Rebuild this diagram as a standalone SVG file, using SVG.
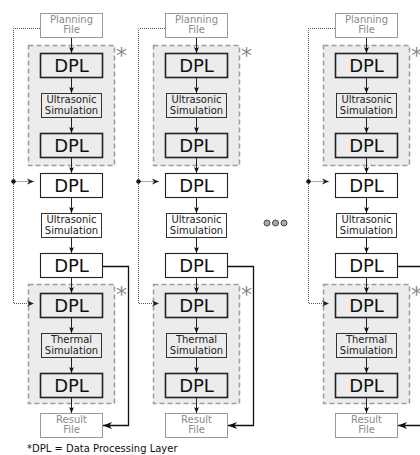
<svg xmlns="http://www.w3.org/2000/svg" width="420" height="455" viewBox="0 0 420 455">
<style>
text{font-family:"DejaVu Sans","Liberation Sans",sans-serif;text-anchor:middle}
.file rect{fill:#fff;stroke:#9a9a9a;stroke-width:1}
.file text{font-size:10px;fill:#8a8a8a}
.grp{fill:#ececec;stroke:#9c9c9c;stroke-width:1.5;stroke-dasharray:5 3}
.dpl rect{stroke:#222;stroke-width:1.6}
.in rect{fill:#ececec}
.out rect{fill:#fff;stroke-width:1.1}
.dpl text{font-size:18px;fill:#111}
.sim rect{stroke:#333;stroke-width:1}
.sim text{font-size:10px;fill:#222}
.ast{font-size:22px;fill:#888;text-anchor:start}
.v{stroke:#222;stroke-width:1;fill:none;marker-end:url(#ah)}
.dot{stroke:#555;stroke-width:1;fill:none;stroke-dasharray:1 1}
.br{stroke:#111;stroke-width:1.3;fill:none;marker-end:url(#ab)}
</style>
<defs>
<marker id="ah" markerUnits="userSpaceOnUse" markerWidth="8" markerHeight="8" refX="6" refY="4" orient="auto"><path d="M0,1.5 L6,4 L0,6.5 L1.5,4 z" fill="#111"/></marker>
<marker id="ad" markerUnits="userSpaceOnUse" markerWidth="8" markerHeight="8" refX="7" refY="4" orient="auto"><path d="M0,1 L7,4 L0,7 L2,4 z" fill="#222"/></marker>
<marker id="ab" markerUnits="userSpaceOnUse" markerWidth="10" markerHeight="10" refX="9" refY="5" orient="auto"><path d="M0,1.5 L9,5 L0,8.5 L2.5,5 z" fill="#111"/></marker>
<g id="column">
  <rect class="grp" x="28.5" y="45.5" width="86" height="120"/>
  <rect class="grp" x="28.5" y="284.5" width="86" height="119"/>
  <g class="conn">
    <path class="v" d="M71.5,38 V53"/>
    <path class="v" d="M71.5,78 V93"/>
    <path class="v" d="M71.5,118 V133"/>
    <path class="v" d="M71.5,158 V173"/>
    <path class="v" d="M71.5,198 V213"/>
    <path class="v" d="M71.5,238 V253"/>
    <path class="v" d="M71.5,278 V293"/>
    <path class="v" d="M71.5,318 V333"/>
    <path class="v" d="M71.5,358 V373"/>
    <path class="v" d="M71.5,398 V413"/>
    <path class="dot" d="M40,28.5 H13.5 V303.5 H34" style="marker-end:url(#ad)"/>
    <path class="dot" d="M13.5,181.5 H34" style="marker-end:url(#ad)"/>
    <circle cx="13.5" cy="181.5" r="2.2" fill="#111"/>
    <path class="br" d="M103,266.5 H128.5 V425.5 H103"/>
  </g>
  <g class="file"><rect x="40.5" y="13.5" width="62" height="24"/><text x="71.5" y="23">Planning</text><text x="71.5" y="33">File</text></g>
  <g class="dpl in"><rect x="40.5" y="53.5" width="62" height="24"/><text x="71.5" y="72">DPL</text></g>
  <g class="sim in"><rect x="41.5" y="93.5" width="60" height="24"/><text x="71.5" y="103">Ultrasonic</text><text x="71.5" y="114">Simulation</text></g>
  <g class="dpl in"><rect x="40.5" y="133.5" width="62" height="24"/><text x="71.5" y="152">DPL</text></g>
  <g class="dpl out"><rect x="40.5" y="173.5" width="62" height="24"/><text x="71.5" y="192">DPL</text></g>
  <g class="sim out"><rect x="41.5" y="213.5" width="60" height="24" fill="#fff"/><text x="71.5" y="223">Ultrasonic</text><text x="71.5" y="234">Simulation</text></g>
  <g class="dpl out"><rect x="40.5" y="253.5" width="62" height="24"/><text x="71.5" y="272">DPL</text></g>
  <g class="dpl in"><rect x="40.5" y="293.5" width="62" height="24"/><text x="71.5" y="312">DPL</text></g>
  <g class="sim in"><rect x="41.5" y="333.5" width="60" height="24"/><text x="71.5" y="343">Thermal</text><text x="71.5" y="354">Simulation</text></g>
  <g class="dpl in"><rect x="40.5" y="373.5" width="62" height="24"/><text x="71.5" y="392">DPL</text></g>
  <g class="file"><rect x="40.5" y="413.5" width="62" height="24"/><text x="71.5" y="423">Result</text><text x="71.5" y="433">File</text></g>
  <text class="ast" x="116" y="63">*</text>
  <text class="ast" x="116" y="302">*</text>
</g>
</defs>
<g id="col1"><use href="#column"/></g>
<g id="col2" transform="translate(125,0)"><use href="#column"/></g>
<g id="col3" transform="translate(295,0)"><use href="#column"/></g>
<g id="ellipsis" fill="#aaa" stroke="#444" stroke-width="1">
  <circle cx="267" cy="223" r="3"/>
  <circle cx="275.5" cy="223" r="3"/>
  <circle cx="284" cy="223" r="3"/>
</g>
<text x="27" y="452" style="font-size:10px;fill:#111;text-anchor:start">*DPL = Data Processing Layer</text>
</svg>
